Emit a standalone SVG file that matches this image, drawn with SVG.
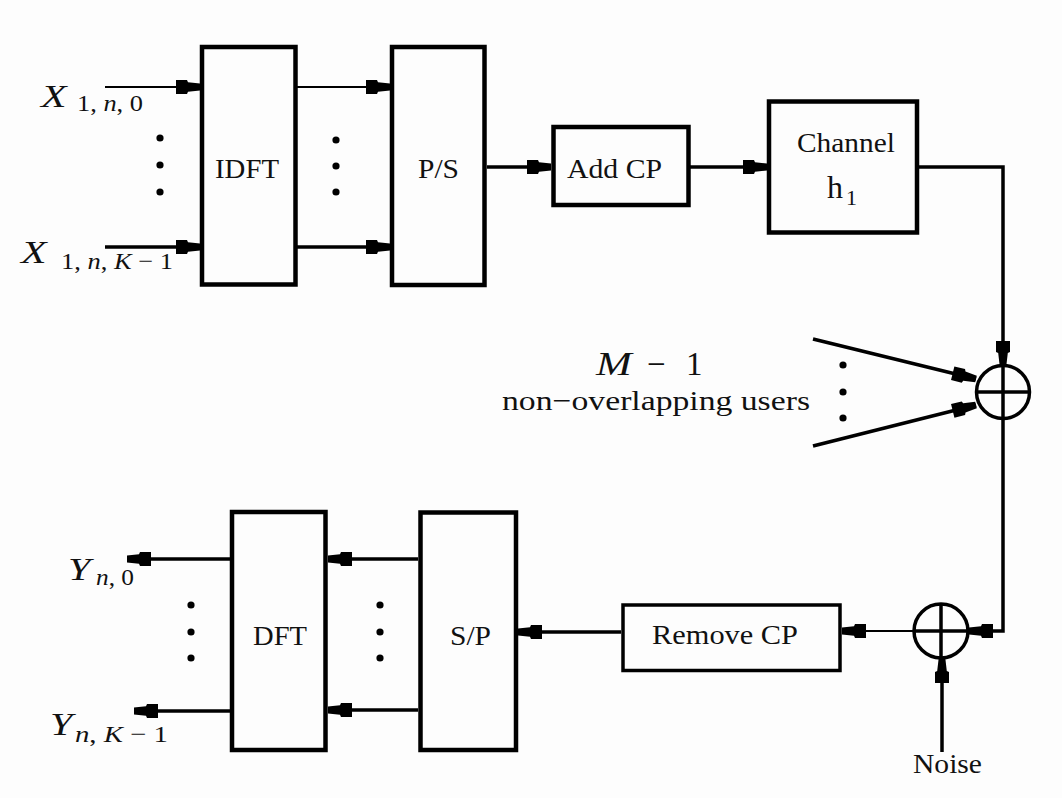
<svg xmlns="http://www.w3.org/2000/svg" width="1062" height="798" viewBox="0 0 1062 798">
  <style>
    .box { fill: none; stroke: #000; stroke-width: 4.5; }
    .box2 { fill: none; stroke: #000; stroke-width: 3.5; }
    .sum { fill: none; stroke: #000; stroke-width: 3.5; }
    .w { fill: none; stroke: #000; stroke-width: 3.5; }
    .thin { fill: none; stroke: #000; stroke-width: 2.2; }
    .arr { marker-end: url(#head); }
    .lbl { font-family: "Liberation Serif", "Tinos", "Times New Roman", "Nimbus Roman", serif; font-size: 28px; fill: #111; }
    .math { font-family: "Liberation Serif", "Tinos", "Times New Roman", "Nimbus Roman", serif; fill: #111; }
    .mi { font-style: italic; }
    .dot { fill: #000; }
  </style>
  <defs>
    <!-- stubby filled arrowhead, tip at the end of the path -->
    <marker id="head" markerUnits="userSpaceOnUse" markerWidth="30" markerHeight="20" viewBox="-26 -10 30 20" refX="0" refY="0" orient="auto">
      <path d="M0,-3.4 L-12,-4.8 L-13,-7 L-24,-7 L-24,7 L-13,7 L-12,4.8 L0,3.4 Z" fill="#000"/>
    </marker>
  </defs>

  <rect width="1062" height="798" fill="#fdfdfd"/>

  <!-- connectors -->
  <g id="connectors">
    <line class="thin arr" x1="105" y1="87" x2="200" y2="87"/>
    <line class="w arr" x1="105" y1="247" x2="200" y2="247"/>
    <line class="thin arr" x1="297" y1="87" x2="390" y2="87"/>
    <line class="w arr" x1="297" y1="247" x2="390" y2="247"/>
    <line class="w arr" x1="487" y1="167" x2="551" y2="167"/>
    <line class="w arr" x1="690" y1="167" x2="767" y2="167"/>
    <polyline class="w arr" points="919,167 1003,167 1003,365"/>
    <line class="w arr" x1="813" y1="339" x2="976" y2="379"/>
    <line class="w arr" x1="813" y1="446" x2="976" y2="405"/>
    <polyline class="w arr" points="1003,419 1003,631 969,631"/>
    <line class="thin arr" x1="914" y1="631" x2="842" y2="631"/>
    <line class="w arr" x1="942" y1="752" x2="942" y2="659"/>
    <line class="w arr" x1="621" y1="632" x2="518" y2="632"/>
    <line class="w arr" x1="418" y1="559" x2="328" y2="559"/>
    <line class="w arr" x1="418" y1="710" x2="328" y2="710"/>
    <line class="w arr" x1="230" y1="559" x2="127" y2="559"/>
    <line class="w arr" x1="230" y1="711" x2="134" y2="711"/>
  </g>

  <!-- continuation dots -->
  <g id="dots">
    <circle class="dot" cx="160" cy="138" r="3.6"/>
    <circle class="dot" cx="160" cy="165" r="3.6"/>
    <circle class="dot" cx="160" cy="192" r="3.6"/>
    <circle class="dot" cx="336" cy="140" r="3.6"/>
    <circle class="dot" cx="336" cy="166" r="3.6"/>
    <circle class="dot" cx="336" cy="192" r="3.6"/>
    <circle class="dot" cx="843" cy="365" r="3.6"/>
    <circle class="dot" cx="843" cy="392" r="3.6"/>
    <circle class="dot" cx="843" cy="418" r="3.6"/>
    <circle class="dot" cx="191" cy="605" r="3.6"/>
    <circle class="dot" cx="191" cy="632" r="3.6"/>
    <circle class="dot" cx="191" cy="658" r="3.6"/>
    <circle class="dot" cx="380" cy="605" r="3.6"/>
    <circle class="dot" cx="380" cy="632" r="3.6"/>
    <circle class="dot" cx="380" cy="658" r="3.6"/>
  </g>

  <g id="idft">
    <rect class="box" x="202" y="47" width="93.5" height="237.5"/>
    <text class="lbl" x="215" y="178" textLength="64" lengthAdjust="spacingAndGlyphs">IDFT</text>
  </g>
  <g id="ps">
    <rect class="box" x="392" y="47" width="92.5" height="238"/>
    <text class="lbl" x="418" y="178" textLength="41" lengthAdjust="spacingAndGlyphs">P/S</text>
  </g>
  <g id="addcp">
    <rect class="box" x="553.5" y="127" width="135" height="78"/>
    <text class="lbl" x="567" y="178" textLength="95" lengthAdjust="spacingAndGlyphs">Add CP</text>
  </g>
  <g id="channel">
    <rect class="box" x="769" y="101.5" width="148" height="131"/>
    <text class="lbl" x="797" y="152" textLength="98" lengthAdjust="spacingAndGlyphs">Channel</text>
    <text class="math" font-size="32" x="827" y="198">h</text>
    <text class="math" font-size="22" x="846" y="205">1</text>
  </g>
  <g id="sum1">
    <circle class="sum" cx="1003" cy="392" r="26.5"/>
    <line class="sum" x1="976.5" y1="392" x2="1029.5" y2="392"/>
    <line class="sum" x1="1003" y1="365.5" x2="1003" y2="418.5"/>
  </g>
  <g id="users">
    <text class="math mi" font-size="33" transform="translate(596,375) scale(1.3,1)">M</text>
    <text class="math" font-size="33" x="647" y="375">−</text>
    <text class="math" font-size="33" x="686" y="375">1</text>
    <text class="lbl" font-size="26" x="502" y="410" textLength="308" lengthAdjust="spacingAndGlyphs">non−overlapping users</text>
  </g>
  <g id="sum2">
    <circle class="sum" cx="941" cy="631" r="27"/>
    <line class="sum" x1="914" y1="631" x2="968" y2="631"/>
    <line class="sum" x1="941" y1="604" x2="941" y2="658"/>
  </g>
  <g id="noise">
    <text class="lbl" font-size="26" x="913" y="773" textLength="69" lengthAdjust="spacingAndGlyphs">Noise</text>
  </g>
  <g id="removecp">
    <rect class="box2" x="623" y="605" width="217" height="65.5"/>
    <text class="lbl" x="652" y="644" textLength="146" lengthAdjust="spacingAndGlyphs">Remove CP</text>
  </g>
  <g id="sp">
    <rect class="box" x="420.5" y="512.5" width="95.5" height="237.5"/>
    <text class="lbl" x="450" y="645" textLength="41" lengthAdjust="spacingAndGlyphs">S/P</text>
  </g>
  <g id="dft">
    <rect class="box" x="232" y="512" width="93.5" height="238"/>
    <text class="lbl" x="253" y="645" textLength="54" lengthAdjust="spacingAndGlyphs">DFT</text>
  </g>

  <!-- input and output symbols -->
  <g id="x0">
    <text class="math mi" font-size="31" transform="translate(41,107) scale(1.35,1)">X</text>
    <text class="math" font-size="24" x="77" y="111" textLength="66" lengthAdjust="spacingAndGlyphs">1, <tspan class="mi">n</tspan>, 0</text>
  </g>
  <g id="xk">
    <text class="math mi" font-size="31" transform="translate(21,263) scale(1.35,1)">X</text>
    <text class="math" font-size="24" x="61" y="269" textLength="112" lengthAdjust="spacingAndGlyphs">1, <tspan class="mi">n</tspan>, <tspan class="mi">K</tspan> − 1</text>
  </g>
  <g id="y0">
    <text class="math mi" font-size="31" transform="translate(68,580) scale(1.3,1)">Y</text>
    <text class="math" font-size="24" x="96" y="585" textLength="38" lengthAdjust="spacingAndGlyphs"><tspan class="mi">n</tspan>, 0</text>
  </g>
  <g id="yk">
    <text class="math mi" font-size="31" transform="translate(50,735) scale(1.3,1)">Y</text>
    <text class="math" font-size="24" x="75" y="742" textLength="93" lengthAdjust="spacingAndGlyphs"><tspan class="mi">n</tspan>, <tspan class="mi">K</tspan> − 1</text>
  </g>
</svg>
